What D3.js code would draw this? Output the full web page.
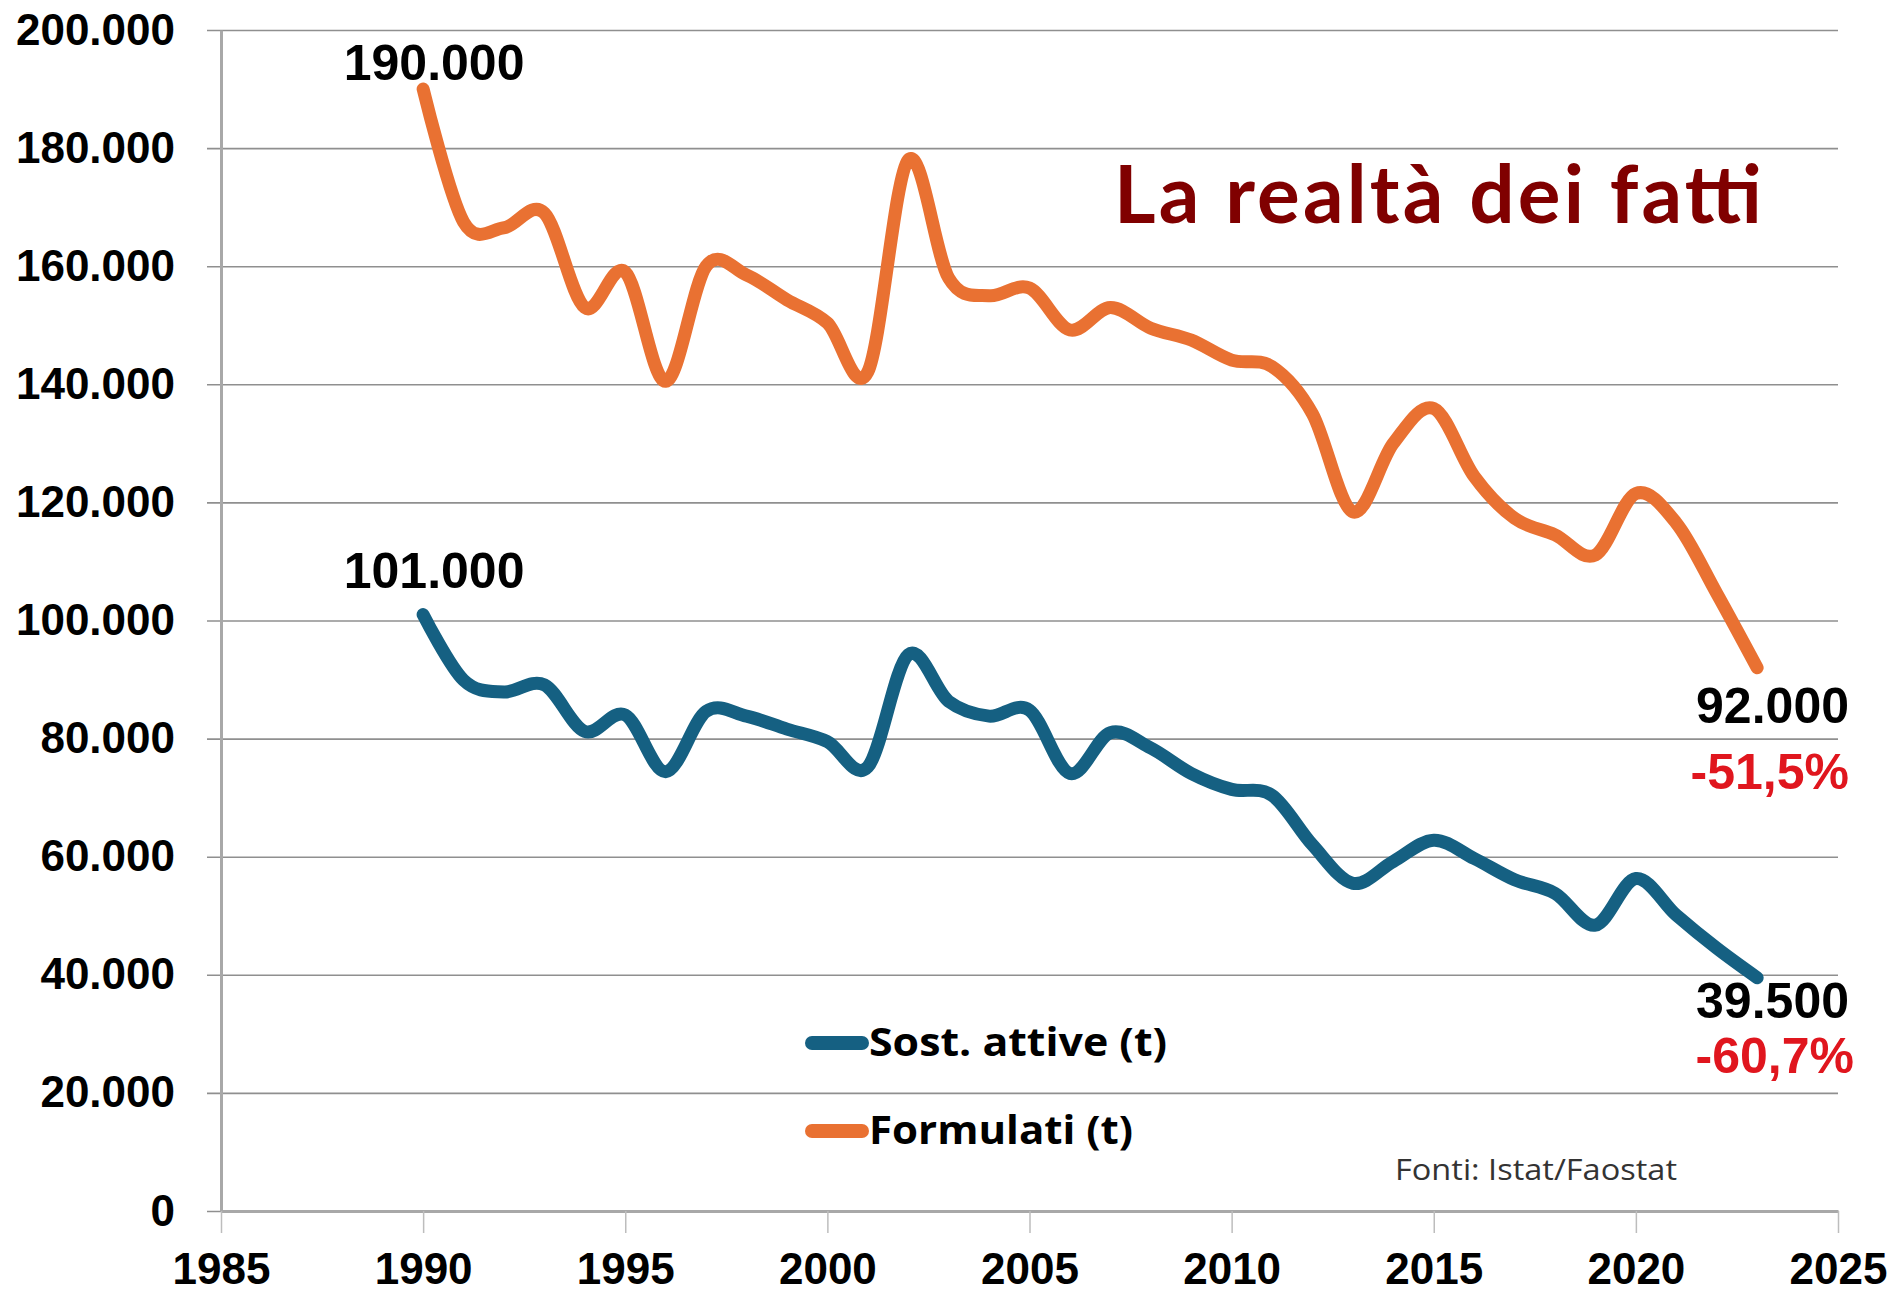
<!DOCTYPE html>
<html>
<head>
<meta charset="utf-8">
<script src="https://cdn.jsdelivr.net/npm/d3@7"></script>
<style>
  body { margin: 0; background: #ffffff; }
</style>
</head>
<body>
<svg id="drawing_region"></svg>
<script>
// anni 1990-2023
const years = [1990, 1991, 1992, 1993, 1994, 1995, 1996, 1997, 1998, 1999,
               2000, 2001, 2002, 2003, 2004, 2005, 2006, 2007, 2008, 2009,
               2010, 2011, 2012, 2013, 2014, 2015, 2016, 2017, 2018, 2019,
               2020, 2021, 2022, 2023];

// Formulati (t)
const formulati = [190000, 167500, 166500, 169000, 153000, 159000, 140500, 160000, 158500, 154300,
                   150400, 142100, 178000, 158000, 155000, 156300, 149200, 153000, 149500, 147500,
                   144100, 143000, 135000, 118400, 130000, 135900, 124400, 117300, 114500, 111100,
                   121500, 116500, 104600, 92000];

// Sost. attive (t)
const sostAttive = [101000, 89900, 87900, 89100, 81200, 84000, 74400, 84600, 83800, 81600,
                    79500, 75200, 94200, 86300, 83800, 84800, 74100, 81000, 78400, 74100,
                    71400, 70400, 62000, 55500, 59200, 62800, 59700, 56100, 53800, 48400,
                    56300, 50100, 44500, 39500];

const xTicks = [1985, 1990, 1995, 2000, 2005, 2010, 2015, 2020, 2025];
const yTicks = [0, 20000, 40000, 60000, 80000, 100000, 120000, 140000, 160000, 180000, 200000];

const seriesNames = ["Sost. attive (t)", "Formulati (t)"];
const endPercent = ["-60,7%", "-51,5%"];

const it = d3.formatLocale({decimal: ",", thousands: ".", grouping: [3], currency: ["€", ""]});
const fmt = it.format(",");

class LineChart {
    constructor( config ) {
        this.config = config;
        this.init();
    }

    init() {
        let self = this;
        const c = self.config;

        self.svg = d3.select( c.parent )
            .attr('width', c.width)
            .attr('height', c.height);

        self.xscale = d3.scaleLinear()
            .domain( [1985, 2025] )
            .range( [c.left, c.right] );

        self.yscale = d3.scaleLinear()
            .domain( [0, 200000] )
            .range( [c.bottom, c.top] );

        // Excel-like smoothed line
        self.line = d3.line()
            .x( d => self.xscale( d.year ) )
            .y( d => self.yscale( d.value ) )
            .curve( d3.curveCardinal.tension(0) );
    }

    render() {
        let self = this;
        const c = self.config;
        const labelFont = "'Liberation Sans', Arial, sans-serif";
        const textFont = "'Open Sans', 'Noto Sans', sans-serif";

        // gridlines + y labels
        const grid = self.svg.append('g')
            .attr('transform', `translate(${c.left - 14}, 0)`)
            .call( d3.axisLeft( self.yscale )
                .tickValues( yTicks )
                .tickSize( -(c.right - c.left + 14) )
                .tickPadding( 32 )
                .tickFormat( fmt ) );
        grid.select('.domain').remove();
        grid.selectAll('.tick line')
            .attr('stroke', '#8f8f8f')
            .attr('stroke-width', 1.6);
        grid.selectAll('.tick text')
            .attr('font-family', labelFont)
            .attr('font-weight', 'bold')
            .attr('font-size', '44px')
            .attr('fill', '#000');

        // y axis line
        const yaxis = self.svg.append('g')
            .attr('transform', `translate(${c.left}, 0)`)
            .call( d3.axisLeft( self.yscale ).tickValues([]).tickSizeOuter(0) );
        yaxis.select('.domain')
            .attr('stroke', '#a8a8a8')
            .attr('stroke-width', 3);

        // x axis
        const xaxis = self.svg.append('g')
            .attr('transform', `translate(0, ${c.bottom})`)
            .call( d3.axisBottom( self.xscale )
                .tickValues( xTicks )
                .tickSize( 22 )
                .tickSizeOuter( 0 )
                .tickPadding( 20 )
                .tickFormat( d3.format('d') ) );
        xaxis.select('.domain')
            .attr('stroke', '#a8a8a8')
            .attr('stroke-width', 3);
        xaxis.selectAll('.tick line')
            .attr('stroke', '#bdbdbd')
            .attr('stroke-width', 1.5);
        xaxis.selectAll('.tick text')
            .attr('font-family', labelFont)
            .attr('font-weight', 'bold')
            .attr('font-size', '44px')
            .attr('fill', '#000');

        // series
        const series = [
            { name: seriesNames[0], color: '#156082', values: sostAttive, labelY: 588, legendW: 298 },
            { name: seriesNames[1], color: '#E97132', values: formulati, labelY: 80, legendW: 264 }
        ];

        series.forEach( s => {
            const pts = years.map( (y, i) => ({ year: y, value: s.values[i] }) );
            self.svg.append('path')
                .datum( pts )
                .attr('fill', 'none')
                .attr('stroke', s.color)
                .attr('stroke-width', 13)
                .attr('stroke-linecap', 'round')
                .attr('stroke-linejoin', 'round')
                .attr('d', self.line);

            // starting value
            self.svg.append('text')
                .attr('x', self.xscale( pts[0].year ) + 11)
                .attr('y', s.labelY)
                .attr('text-anchor', 'middle')
                .attr('font-family', labelFont)
                .attr('font-weight', 'bold')
                .attr('font-size', '50px')
                .text( fmt( pts[0].value ) );
        });

        // end labels
        const endRows = [
            { text: fmt( formulati[formulati.length - 1] ), y: 723, color: '#000' },
            { text: endPercent[1], y: 789, color: '#E0161E' },
            { text: fmt( sostAttive[sostAttive.length - 1] ), y: 1018, color: '#000' },
            { text: endPercent[0], y: 1073, color: '#E0161E' }
        ];
        self.svg.selectAll('.endlabel')
            .data( endRows )
            .enter()
            .append('text')
            .attr('class', 'endlabel')
            .attr('x', (d, i) => i === 3 ? 1854 : 1849)
            .attr('y', d => d.y)
            .attr('text-anchor', 'end')
            .attr('font-family', labelFont)
            .attr('font-weight', 'bold')
            .attr('font-size', '50px')
            .attr('fill', d => d.color)
            .text( d => d.text );

        // legend
        const legend = self.svg.append('g');
        series.forEach( (s, i) => {
            const ly = 1043 + i * 88;
            legend.append('line')
                .attr('x1', 812).attr('x2', 862)
                .attr('y1', ly).attr('y2', ly)
                .attr('stroke', s.color)
                .attr('stroke-width', 14)
                .attr('stroke-linecap', 'round');
            legend.append('text')
                .attr('x', 869)
                .attr('y', ly + 13)
                .attr('font-family', textFont)
                .attr('font-weight', 'bold')
                .attr('font-size', '40px')
                .attr('textLength', s.legendW)
                .attr('lengthAdjust', 'spacingAndGlyphs')
                .attr('fill', '#000')
                .text( s.name );
        });

        // source
        self.svg.append('text')
            .attr('x', 1395)
            .attr('y', 1180)
            .attr('font-family', textFont)
            .attr('font-size', '30px')
            .attr('textLength', 282)
            .attr('lengthAdjust', 'spacingAndGlyphs')
            .attr('fill', '#333')
            .text('Fonti: Istat/Faostat');

        // annotation
        self.svg.append('text')
            .attr('x', 1114)
            .attr('y', 223)
            .attr('font-family', "Lato, 'Open Sans', sans-serif")
            .attr('font-weight', 'bold')
            .attr('font-size', '80px')
            .attr('textLength', 648)
            .attr('lengthAdjust', 'spacing')
            .attr('fill', '#800000')
            .text('La realtà dei fatti');
    }
}

const chart = new LineChart({
    parent: '#drawing_region',
    width: 1895,
    height: 1295,
    left: 221,
    right: 1838,
    top: 30,
    bottom: 1211
});
chart.render();
</script>
</body>
</html>
